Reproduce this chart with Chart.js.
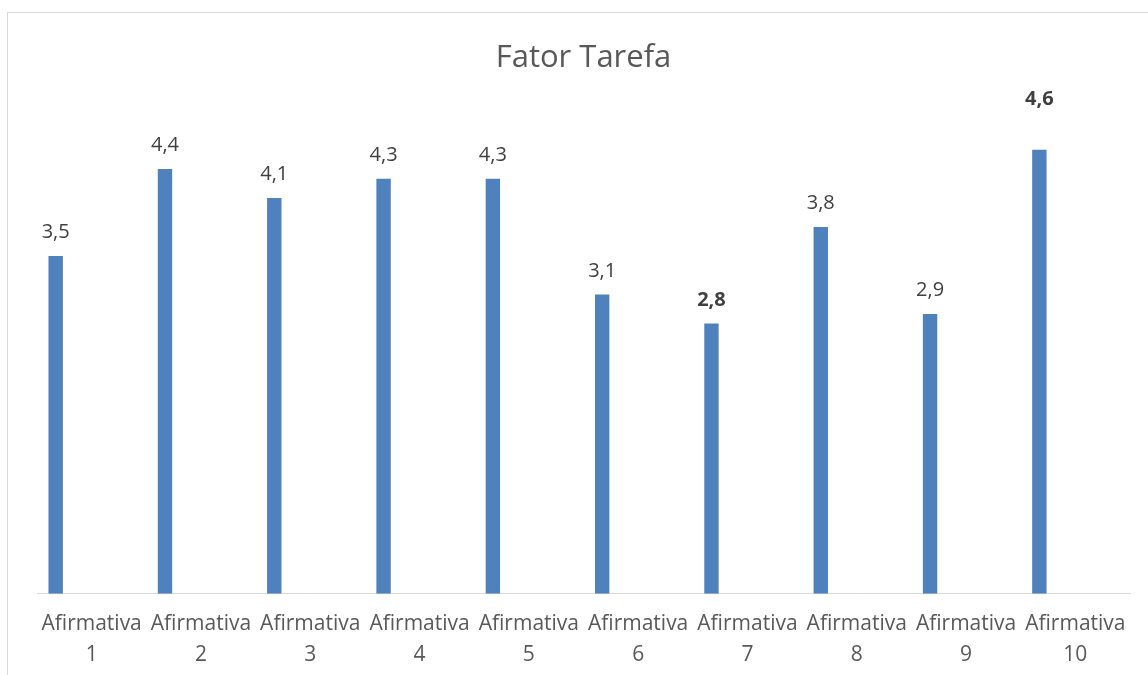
<!DOCTYPE html>
<html>
<head>
<meta charset="utf-8">
<script src="https://cdn.jsdelivr.net/npm/chart.js@4"></script>
<style>
    html, body { margin: 0; padding: 0; background: #fff; overflow: hidden; }
    #wrap {
        position: absolute;
        left: 7px;
        top: 12px;
        width: 1141px;
        height: 677px;
        border-left: 1px solid #d9d9d9;
        border-top: 1px solid #d9d9d9;
    }
    #wrap canvas { display: block; }
</style>
</head>
<body>
<div id="wrap"><canvas id="chart" width="1140" height="676"></canvas></div>
<script>
// data
const categories = ['1', '2', '3', '4', '5', '6', '7', '8', '9', '10'];
const scores = [3.5, 4.4, 4.1, 4.3, 4.3, 3.1, 2.8, 3.8, 2.9, 4.6];
const boldLabels = [6, 9]; // indices whose label is bold
const yTicks = [0, 5];

// the original sheet had empty extra series, so each bar sits left in its slot
const emptySeriesCount = 5;

const fontFamily = '"Open Sans", "Noto Sans", sans-serif';

// label for the last bar was dragged up by hand in the original
const labelLift = { 9: 45 };

const valueLabels = {
    id: 'valueLabels',
    afterDatasetsDraw(chart) {
        const ctx = chart.ctx;
        const meta = chart.getDatasetMeta(0);
        ctx.save();
        ctx.textAlign = 'center';
        ctx.textBaseline = 'alphabetic';
        ctx.fillStyle = '#404040';
        meta.data.forEach((bar, i) => {
            const bold = boldLabels.includes(i);
            ctx.font = (bold ? 'bold ' : '') + '20px ' + fontFamily;
            const text = scores[i].toFixed(1).replace('.', ',');
            ctx.fillText(text, bar.x, bar.y - (labelLift[i] || 18));
        });
        ctx.restore();
    }
};

const datasets = [{
    label: 'Fator Tarefa',
    data: scores,
    backgroundColor: '#4f81bd',
    borderWidth: 0
}];
for (let k = 0; k < emptySeriesCount; k++) {
    datasets.push({ label: '', data: categories.map(() => null), backgroundColor: '#4f81bd' });
}

const ctx = document.getElementById('chart').getContext('2d');
const chart = new Chart(ctx, {
    type: 'bar',
    data: {
        labels: categories.map(c => ['Afirmativa', c]),
        datasets: datasets
    },
    options: {
        responsive: false,
        animation: false,
        layout: {
            padding: { left: 29, right: 18, top: 0, bottom: 3 }
        },
        datasets: {
            bar: { categoryPercentage: 0.79, barPercentage: 1 }
        },
        scales: {
            x: {
                grid: { display: false, drawTicks: false },
                border: { display: true, color: '#d9d9d9', width: 1 },
                ticks: {
                    color: '#595959',
                    padding: 15,
                    maxRotation: 0,
                    autoSkip: false,
                    font: { family: fontFamily, size: 21, lineHeight: 1.48 }
                }
            },
            y: {
                display: false,
                min: yTicks[0],
                max: yTicks[1]
            }
        },
        plugins: {
            legend: { display: false },
            tooltip: { enabled: false },
            title: {
                display: true,
                text: 'Fator Tarefa',
                color: '#595959',
                font: { family: fontFamily, size: 31, weight: 'normal', lineHeight: 1.2 },
                padding: { top: 27, bottom: 34 }
            }
        }
    },
    plugins: [valueLabels]
});
</script>
</body>
</html>
